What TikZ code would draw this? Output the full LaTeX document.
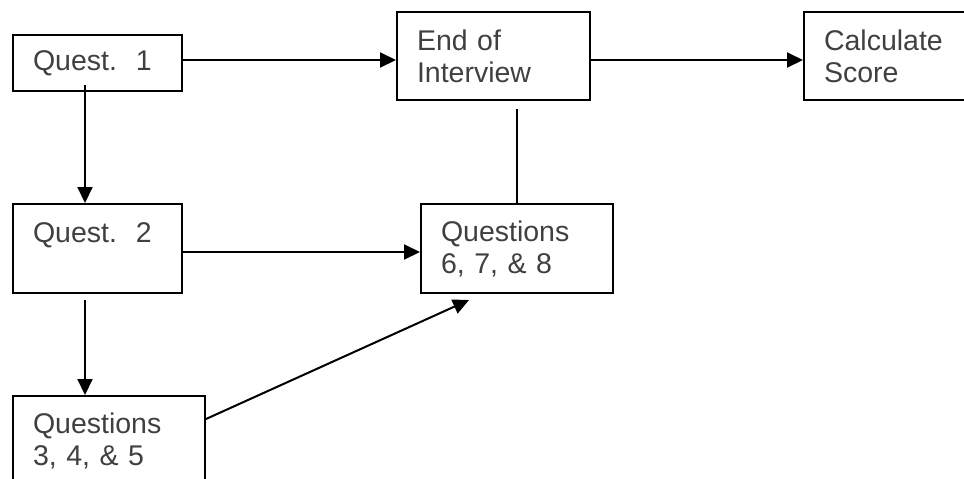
\documentclass[tikz,border=0pt]{standalone}
\usepackage{fontspec}
\setmainfont{Liberation Sans}
\usetikzlibrary{arrows.meta}

\begin{document}
\begin{tikzpicture}[>={Triangle[length=8pt,width=7.5pt]},x=0.5pt,y=-0.5pt,
    qbox/.style={draw, line width=1pt, anchor=north west, align=left,
        inner xsep=10pt, inner ysep=0pt, text=black!75,
        font=\fontsize{14.25}{16}\selectfont},
    flow/.style={->, line width=1pt}]

%the page
    \clip (0,0) rectangle (964,478);

%the boxes
    \node[qbox, text width=64.5pt, minimum height=28pt] (q1) at (12,34) {Quest.\ \ 1};
    \node[qbox, text width=76.5pt, minimum height=44pt] (end) at (396,11) {End of\\Interview};
    \node[qbox, text width=90pt, minimum height=44pt] (calc) at (803,11) {Calculate\\Score};
    \node[qbox, text width=64.5pt, minimum height=44.5pt] (q2) at (12,203) {Quest.\ \ 2\\\mbox{}};
    \node[qbox, text width=76pt, minimum height=44.5pt] (q678) at (420,203) {Questions\\6, 7, \& 8};
    \node[qbox, text width=76pt, minimum height=44.5pt] (q345) at (12,395) {Questions\\3, 4, \& 5};

%the arrows
    \coordinate (a) at ([yshift=1.5pt]q1.east);
    \draw[flow] (a) to (a -| end.west);
    \draw[flow] ([yshift=-2pt]end.east) to ([yshift=-2pt]calc.west);
    \draw[flow] ([xshift=-6.25pt,yshift=3.5pt]q1.south) to ([xshift=-6.25pt]q2.north);
    \draw[flow] ([xshift=-6.25pt,yshift=-3pt]q2.south) to ([xshift=-12pt]q345.north);
    \draw[flow] ([yshift=-1.75pt]q2.east) to ([yshift=-1.75pt]q678.west);
    \draw[flow] ([yshift=10.75pt]q345.east) to ([xshift=-24pt,yshift=-3pt]q678.south);

%the plain line
    \coordinate (e) at (q678.north |- end.south);
    \draw[line width=1pt] (q678.north) to ([yshift=-4pt]e);
\end{tikzpicture}
\end{document}
